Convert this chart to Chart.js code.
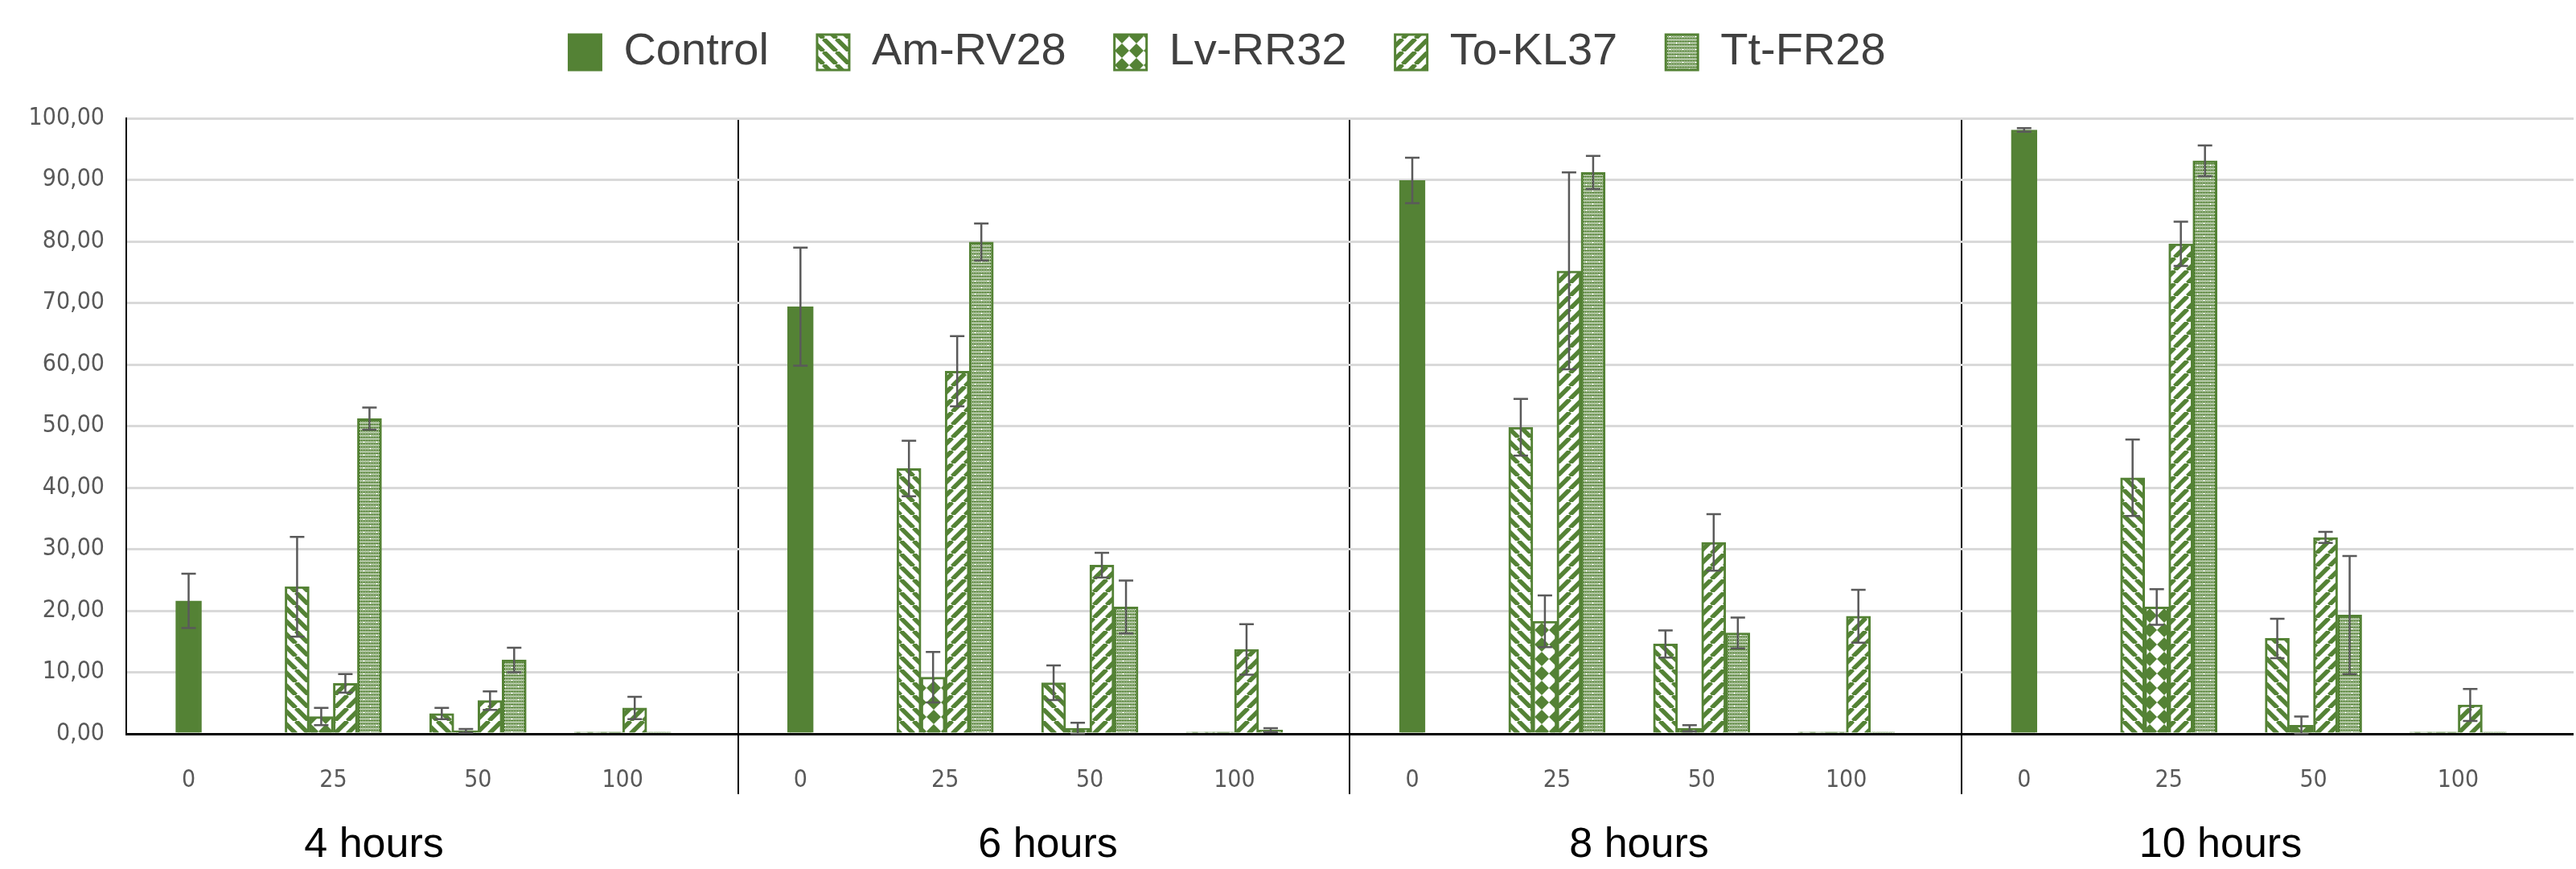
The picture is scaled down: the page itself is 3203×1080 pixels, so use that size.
<!DOCTYPE html>
<html><head><meta charset="utf-8">
<script src="https://cdn.jsdelivr.net/npm/chart.js@4.4.1/dist/chart.umd.min.js"></script>
<style>
html,body{margin:0;padding:0;background:#fff;}
#wrap{position:relative;width:3203px;height:1080px;overflow:hidden;background:#fff;}
#c{position:absolute;left:0;top:0;}
.ptitle{position:absolute;top:1021px;font-family:'Liberation Sans',Arial,sans-serif;font-size:52px;line-height:52px;color:#000;white-space:nowrap;transform:translateX(-50%);}
</style></head>
<body><div id="wrap"><canvas id="c" width="3203" height="1080"></canvas></div>
<script>
// ---------------- DATA ----------------
const hours = ['4 hours', '6 hours', '8 hours', '10 hours'];
const doses = ['0', '25', '50', '100'];
const seriesNames = ['Control', 'Am-RV28', 'Lv-RR32', 'To-KL37', 'Tt-FR28'];

// Control: only dose 0, one value per time point
const controlMean = [21.6, 69.4, 89.9, 98.1];
const controlErr  = [4.4, 9.6, 3.7, 0.3];

// Extracts: doses 25, 50, 100 for each time point
const amMean = [[23.9, 3.3, 0.3], [43.1, 8.3, 0.3], [49.8, 14.6, 0.3], [41.6, 15.5, 0.3]];
const amErr  = [[8.1, 0.9, 0], [4.5, 2.8, 0], [4.6, 2.2, 0], [6.2, 3.2, 0]];
const lvMean = [[2.8, 0.5, 0.3], [9.2, 0.9, 0.3], [18.3, 0.9, 0.3], [20.6, 1.4, 0.3]];
const lvErr  = [[1.4, 0.3, 0], [4.1, 0.9, 0], [4.2, 0.5, 0], [2.9, 1.4, 0]];
const toMean = [[8.2, 5.4, 4.2], [58.9, 27.4, 13.7], [75.2, 31.1, 19.1], [79.6, 31.9, 4.7]];
const toErr  = [[1.5, 1.5, 1.8], [5.7, 2.0, 4.1], [16.0, 4.6, 4.3], [3.6, 0.9, 2.6]];
const ttMean = [[51.2, 12.0, 0.3], [79.9, 20.6, 0.6], [91.2, 16.4, 0.3], [93.1, 19.3, 0.3]];
const ttErr  = [[1.8, 2.0, 0], [3.0, 4.3, 0.3], [2.7, 2.5, 0], [2.5, 9.6, 0]];

// ---------------- LAYOUT / STYLE ----------------
const GREEN = '#548235';
const PANEL_SPAN = 4.229;   // axis units per panel
const AXIS_START = -0.431;  // axis start relative to first dose of a panel
const titleCenters = [465, 1303, 2038, 2761];

function makeTile(size, draw) {
  const c = document.createElement('canvas'); c.width = c.height = size;
  const g = c.getContext('2d'); g.fillStyle = '#fff'; g.fillRect(0, 0, size, size);
  draw(g, size);
  return c.getContext('2d').createPattern(c, 'repeat');
}
function stripes(dir) {
  return makeTile(16, (g, s) => {
    g.strokeStyle = GREEN; g.lineWidth = 5.5;
    for (let k = -1; k <= 1; k++) {
      g.beginPath();
      if (dir > 0) { g.moveTo(k * s, 0); g.lineTo(k * s + s, s); }
      else { g.moveTo(k * s, s); g.lineTo(k * s + s, 0); }
      g.stroke();
    }
  });
}
const diamondPat = makeTile(18, (g, s) => {
  g.fillStyle = GREEN; g.beginPath();
  g.moveTo(s / 2, 0); g.lineTo(s, s / 2); g.lineTo(s / 2, s); g.lineTo(0, s / 2); g.closePath(); g.fill();
});
const dotPat = makeTile(16, (g, s) => {
  g.fillStyle = GREEN;
  for (let y = 0; y < s; y++) for (let x = 0; x < s; x++) {
    if ((x + y) % 2 === 1 || y % 4 === 3) g.fillRect(x, y, 1, 1);
  }
  g.fillStyle = '#fff';
  [[4, 5], [12, 13]].forEach(([cx, cy]) => { g.fillRect(cx - 1, cy, 3, 1); g.fillRect(cx, cy - 1, 1, 3); });
});
const fills = [GREEN, stripes(1), diamondPat, stripes(-1), dotPat];

// ---------------- BUILD DATASETS ----------------
const xOf = (p, d) => p * PANEL_SPAN + d;
function buildControl() {
  const data = [], errors = [];
  hours.forEach((h, p) => doses.forEach((d, di) => {
    data.push({ x: xOf(p, di), y: di === 0 ? controlMean[p] : null });
    errors.push(di === 0 ? controlErr[p] : 0);
  }));
  return { data, errors };
}
function buildExtract(mean, err) {
  const data = [], errors = [];
  hours.forEach((h, p) => doses.forEach((d, di) => {
    data.push({ x: xOf(p, di), y: di === 0 ? null : mean[p][di - 1] });
    errors.push(di === 0 ? 0 : err[p][di - 1]);
  }));
  return { data, errors };
}
const built = [buildControl(), buildExtract(amMean, amErr), buildExtract(lvMean, lvErr),
               buildExtract(toMean, toErr), buildExtract(ttMean, ttErr)];
const datasets = built.map((b, i) => ({
  label: seriesNames[i], data: b.data, errors: b.errors,
  backgroundColor: fills[i], borderColor: GREEN, borderWidth: 3,
  barThickness: i === 0 ? 32 : 30, skipNull: true, borderSkipped: 'start'
}));

// x ticks: dose ticks + panel separators
const tickVals = [], labelMap = new Map(), sepSet = new Set();
hours.forEach((h, p) => {
  if (p > 0) { const s = p * PANEL_SPAN + AXIS_START; tickVals.push(s); sepSet.add(s); labelMap.set(s, ''); }
  doses.forEach((d, di) => { const v = xOf(p, di); tickVals.push(v); labelMap.set(v, d); });
});

const errorBarPlugin = {
  id: 'errorBars',
  afterDatasetsDraw(chart) {
    const ctx = chart.ctx, yS = chart.scales.y;
    ctx.save(); ctx.strokeStyle = '#5a5a5a'; ctx.lineWidth = 2.5;
    chart.data.datasets.forEach((ds, di) => {
      const meta = chart.getDatasetMeta(di);
      meta.data.forEach((bar, i) => {
        const pt = ds.data[i], e = ds.errors[i];
        if (pt.y == null || !e) return;
        const x = bar.x;
        const yT = yS.getPixelForValue(pt.y + e), yB = yS.getPixelForValue(Math.max(pt.y - e, 0));
        ctx.beginPath();
        ctx.moveTo(x, yT); ctx.lineTo(x, yB);
        ctx.moveTo(x - 9, yT); ctx.lineTo(x + 9, yT);
        ctx.moveTo(x - 9, yB); ctx.lineTo(x + 9, yB);
        ctx.stroke();
      });
    });
    ctx.restore();
  }
};
const legendShift = {
  id: 'legendShift',
  afterLayout(chart) {
    const L = chart.legend; if (!L) return;
    L.top -= 44; L.bottom -= 44; L.left -= 74; L.right -= 74;
  }
};

const NARROW = "'Liberation Sans Narrow','DejaVu Sans Condensed','Liberation Sans',sans-serif";

new Chart(document.getElementById('c'), {
  type: 'bar',
  data: { datasets },
  plugins: [errorBarPlugin, legendShift],
  options: {
    responsive: false, animation: false, devicePixelRatio: 1,
    layout: { padding: { top: 21, right: 3, left: 0, bottom: 0 } },
    plugins: {
      tooltip: { enabled: false },
      legend: {
        display: true, position: 'top',
        labels: {
          boxWidth: 40, boxHeight: 44, padding: 60, color: '#404040',
          font: { family: "'Liberation Sans',Arial,sans-serif", size: 56 }
        }
      }
    },
    scales: {
      x: {
        type: 'linear', bounds: 'data', offset: false,
        min: AXIS_START, max: 3 * PANEL_SPAN + AXIS_START + PANEL_SPAN,
        afterBuildTicks: (s) => { s.ticks = tickVals.map(v => ({ value: v })); },
        afterFit: (s) => { s.height = 168; },
        grid: {
          offset: false, drawOnChartArea: true, drawTicks: true, tickLength: 75,
          color: (c) => (c.tick && sepSet.has(c.tick.value)) ? '#000' : 'rgba(0,0,0,0)',
          lineWidth: (c) => (c.tick && sepSet.has(c.tick.value)) ? 2 : 0
        },
        border: { display: true, color: '#000', width: 3 },
        ticks: {
          autoSkip: false, maxRotation: 0, minRotation: 0, padding: -35, color: '#595959',
          font: { family: NARROW, size: 30 },
          callback: (v) => labelMap.has(v) ? labelMap.get(v) : ''
        }
      },
      y: {
        min: 0, max: 100,
        afterFit: (s) => { s.width = 157; },
        grid: { color: '#d9d9d9', lineWidth: 3, drawTicks: false },
        border: { display: true, color: '#000', width: 2 },
        ticks: {
          stepSize: 10, padding: 27, color: '#595959',
          font: { family: NARROW, size: 30 },
          callback: (v) => Number(v).toFixed(2).replace('.', ',')
        }
      }
    }
  }
});

// panel titles
const wrap = document.getElementById('wrap');
hours.forEach((h, p) => {
  const d = document.createElement('div'); d.className = 'ptitle';
  d.textContent = h; d.style.left = titleCenters[p] + 'px';
  wrap.appendChild(d);
});
</script></body></html>
